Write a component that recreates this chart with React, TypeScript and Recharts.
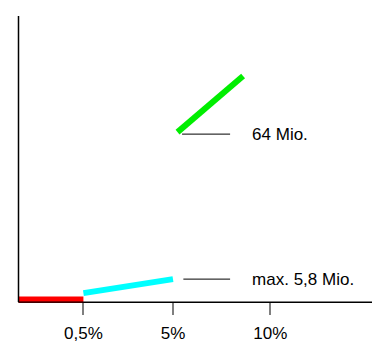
import { ComposedChart, Line, XAxis, YAxis, ReferenceArea } from 'recharts';

// x is in "axis units" of the hand-drawn, uneven scale (0,5% sits at 1)
const tickPos = [1, 2.38, 3.88];
const tickLabels = ['0,5%', '5%', '10%'];
const xMax = 5.446;

const redSeg = [
  { x: 0, y: 0.9 },
  { x: 1, y: 0.9 },
];
const cyanSeg = [
  { x: 1, y: 3.1 },
  { x: 2.38, y: 8.0 },
];
const greenSeg = [
  { x: 2.45, y: 59.4 },
  { x: 3.46, y: 79.0 },
];
const leaderTop = [
  { x: 2.52, y: 58.7 },
  { x: 3.26, y: 58.7 },
];
const leaderBottom = [
  { x: 2.54, y: 8.0 },
  { x: 3.26, y: 8.0 },
];
const labelTexts = ['64 Mio.', 'max. 5,8 Mio.'];

const FONT = '"Liberation Sans", Arial, sans-serif';

const endLabel = (text: string) => (p: any) =>
  p.index === 1 ? (
    <text x={p.x + 22} y={p.y} dy="0.35em" fontSize={17} fontFamily={FONT} fill="#000">
      {text}
    </text>
  ) : (
    <g />
  );

// tick mark (filled rect) + label; p.y sits 8px under the axis line
const XTick = (p: any) => {
  const x = Math.round(Number(p.x));
  const axisY = Number(p.y) - 8;
  return (
    <g>
      <rect x={x - 0.5} y={axisY} width={1} height={13} fill="#000" />
      <text x={p.x} y={axisY + 25} dy="0.71em" textAnchor="middle" fontSize={17} fontFamily={FONT} fill="#000">
        {tickLabels[tickPos.indexOf(p.payload.value)]}
      </text>
    </g>
  );
};

export default function App() {
  return (
    <div style={{ position: 'fixed', left: 0, top: 0, background: '#fff' }}>
      <ComposedChart width={387} height={357} margin={{ top: 16, right: 15, left: 17.5, bottom: 0 }}>
        <XAxis
          type="number"
          dataKey="x"
          domain={[0, xMax]}
          ticks={tickPos}
          height={55}
          axisLine={{ stroke: '#000', strokeWidth: 1 }}
          tickLine={false}
          tick={<XTick />}
        />
        <YAxis
          type="number"
          domain={[0, 100]}
          width={1}
          tick={false}
          tickLine={false}
          axisLine={{ stroke: '#000', strokeWidth: 1.5 }}
        />
        {/* x axis baseline as a thin filled band */}
        <ReferenceArea
          x1={0}
          x2={xMax}
          y1={-0.35}
          y2={0}
          fill="#000"
          fillOpacity={1}
          stroke="none"
          ifOverflow="visible"
        />
        <Line data={redSeg} dataKey="y" stroke="#ff0000" strokeWidth={6} dot={false} isAnimationActive={false} />
        <Line data={cyanSeg} dataKey="y" stroke="#00ffff" strokeWidth={6} dot={false} isAnimationActive={false} />
        <Line data={greenSeg} dataKey="y" stroke="#00ee00" strokeWidth={6} dot={false} isAnimationActive={false} />
        <Line
          data={leaderTop}
          dataKey="y"
          stroke="#000"
          strokeWidth={1}
          dot={false}
          isAnimationActive={false}
          label={endLabel(labelTexts[0])}
        />
        <Line
          data={leaderBottom}
          dataKey="y"
          stroke="#000"
          strokeWidth={1}
          dot={false}
          isAnimationActive={false}
          label={endLabel(labelTexts[1])}
        />
      </ComposedChart>
    </div>
  );
}
